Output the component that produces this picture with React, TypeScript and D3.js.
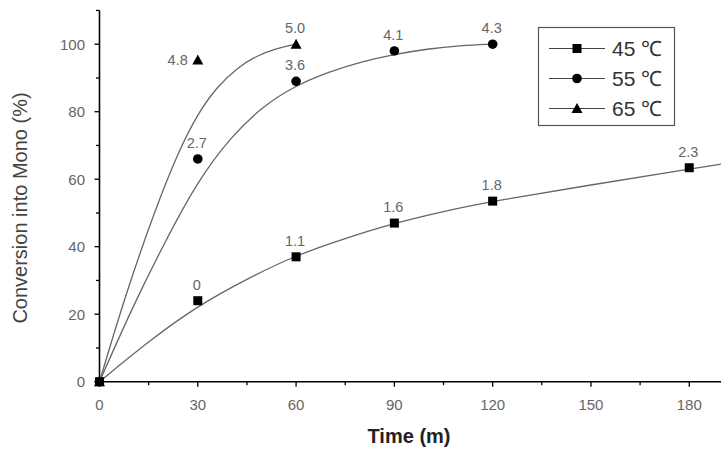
import React, {useEffect, useRef} from 'react';
import * as d3 from 'd3';

// measured points (time in minutes, conversion in %)
const times45 = [0, 30, 60, 90, 120, 180];
const conv45 = [0, 24, 37, 47, 53.5, 63.4];
const labels45 = ['', '0', '1.1', '1.6', '1.8', '2.3'];

const times55 = [0, 30, 60, 90, 120];
const conv55 = [0, 66, 89, 98, 100];
const labels55 = ['', '2.7', '3.6', '4.1', '4.3'];

const times65 = [0, 30, 60];
const conv65 = [0, 95.3, 100];
const labels65 = ['', '4.8', '5.0'];

// fitted curves
const fitTimes45 = [0, 15, 30, 45, 60, 75, 90, 105, 120, 150, 180, 190];
const fitConv45 = [0, 12, 22.5, 30.5, 37.5, 42.5, 47, 50.5, 53.5, 58.3, 63, 64.5];
const fitTimes55 = [0, 10, 20, 30, 40, 50, 60, 70, 80, 90, 100, 110, 120];
const fitConv55 = [0, 22, 41.5, 59.5, 72.5, 81.8, 87.8, 91.8, 94.8, 97, 98.6, 99.6, 100];
const fitTimes65 = [0, 8, 17, 24, 30, 36, 42, 48, 54, 60];
const fitConv65 = [0, 26, 51, 68, 79.5, 87.5, 93, 96.6, 98.8, 100];

const xTicks = [0, 30, 60, 90, 120, 150, 180];
const yTicks = [0, 20, 40, 60, 80, 100];
const legendNames = ['45 \u2103', '55 \u2103', '65 \u2103'];
const legendShapes = ['square', 'circle', 'triangle'];

const W = 721;
const H = 449;

const App = () => {
    const anchor = useRef(null);

    useEffect(() => {
        const svg = d3.select(anchor.current);
        svg.selectAll('*').remove();

        const x = d3.scaleLinear().domain([0, 190]).range([99.5, 722]);
        const y = d3.scaleLinear().domain([0, 110]).range([381.7, 10.45]);

        const font = 'Arial, "Liberation Sans", sans-serif';

        // symbols
        function drawMarker(g, shape, cx, cy) {
            if (shape === 'square') {
                g.append('rect').attr('x', cx - 4.5).attr('y', cy - 4.5)
                    .attr('width', 9).attr('height', 9).attr('fill', '#000');
            } else if (shape === 'circle') {
                g.append('circle').attr('cx', cx).attr('cy', cy).attr('r', 4.8).attr('fill', '#000');
            } else {
                g.append('path')
                    .attr('d', `M${cx},${cy - 5.5}L${cx + 5.5},${cy + 4.5}L${cx - 5.5},${cy + 4.5}Z`)
                    .attr('fill', '#000');
            }
        }

        // fitted curves
        const line = d3.line().x(d => x(d[0])).y(d => y(d[1])).curve(d3.curveBasis);
        const fits = [
            d3.zip(fitTimes45, fitConv45),
            d3.zip(fitTimes55, fitConv55),
            d3.zip(fitTimes65, fitConv65)
        ];
        svg.append('g').selectAll('path').data(fits).enter()
            .append('path')
            .attr('d', line)
            .attr('fill', 'none')
            .attr('stroke', '#666')
            .attr('stroke-width', 1.3);

        // axes
        const axes = svg.append('g');
        axes.append('line').attr('x1', x(0)).attr('x2', 721).attr('y1', y(0)).attr('y2', y(0))
            .attr('stroke', '#000').attr('stroke-width', 1.6);
        axes.append('line').attr('x1', x(0)).attr('x2', x(0)).attr('y1', y(0)).attr('y2', y(110))
            .attr('stroke', '#000').attr('stroke-width', 1.6);

        d3.range(0, 190, 15).forEach(t => {
            const major = t % 30 === 0;
            axes.append('line').attr('x1', x(t)).attr('x2', x(t))
                .attr('y1', y(0)).attr('y2', y(0) + (major ? 5 : 3.5))
                .attr('stroke', '#000').attr('stroke-width', 1.3);
        });
        d3.range(0, 111, 10).forEach(v => {
            const major = v % 20 === 0;
            axes.append('line').attr('x1', x(0)).attr('x2', x(0) - (major ? 5 : 3.5))
                .attr('y1', y(v)).attr('y2', y(v))
                .attr('stroke', '#000').attr('stroke-width', 1.3);
        });

        axes.selectAll('.xt').data(xTicks).enter().append('text')
            .attr('x', d => x(d)).attr('y', 409.5)
            .attr('text-anchor', 'middle')
            .attr('font-family', font).attr('font-size', 15).attr('fill', '#666')
            .text(d => d);
        axes.selectAll('.yt').data(yTicks).enter().append('text')
            .attr('x', 85).attr('y', d => y(d) + 5.3)
            .attr('text-anchor', 'end')
            .attr('font-family', font).attr('font-size', 15).attr('fill', '#666')
            .text(d => d);

        axes.append('text').attr('x', 409).attr('y', 443)
            .attr('text-anchor', 'middle')
            .attr('font-family', font).attr('font-size', 20).attr('font-weight', 'bold')
            .attr('fill', '#222').text('Time (m)');
        axes.append('text')
            .attr('transform', 'translate(27,208) rotate(-90)')
            .attr('text-anchor', 'middle')
            .attr('font-family', font).attr('font-size', 20).attr('fill', '#444')
            .text('Conversion into Mono (%)');

        // markers and labels
        const sets = [
            {t: times45, v: conv45, l: labels45, shape: 'square'},
            {t: times55, v: conv55, l: labels55, shape: 'circle'},
            {t: times65, v: conv65, l: labels65, shape: 'triangle'}
        ];
        const marks = svg.append('g');
        sets.forEach(s => {
            s.t.forEach((t, i) => {
                const cx = x(t), cy = y(s.v[i]);
                drawMarker(marks, s.shape, cx, cy);
                const lab = s.l[i];
                if (!lab) return;
                const side = lab === '4.8';
                marks.append('text')
                    .attr('x', side ? cx - 10 : cx - 1)
                    .attr('y', side ? cy + 5 : cy - 11)
                    .attr('text-anchor', side ? 'end' : 'middle')
                    .attr('font-family', font).attr('font-size', 14.5).attr('fill', '#666')
                    .text(lab);
            });
        });

        // legend
        const legend = svg.append('g');
        legend.append('rect').attr('x', 538.5).attr('y', 27.5).attr('width', 136).attr('height', 98)
            .attr('fill', '#fff').attr('stroke', '#555').attr('stroke-width', 1.2);
        legendNames.forEach((name, i) => {
            const cy = 48.5 + i * 30;
            legend.append('line').attr('x1', 549).attr('x2', 605).attr('y1', cy).attr('y2', cy)
                .attr('stroke', '#444').attr('stroke-width', 1.2);
            drawMarker(legend, legendShapes[i], 577, cy);
            legend.append('text').attr('x', 612).attr('y', cy + 7.5)
                .attr('font-family', font).attr('font-size', 21).attr('fill', '#333')
                .text(name);
        });
    }, []);

    return <React.Fragment>
        <svg ref={anchor} width={W} height={H}
             style={{position: 'absolute', left: 0, top: 0, background: '#fff', display: 'block'}}/>
    </React.Fragment>;
};

export default App;
